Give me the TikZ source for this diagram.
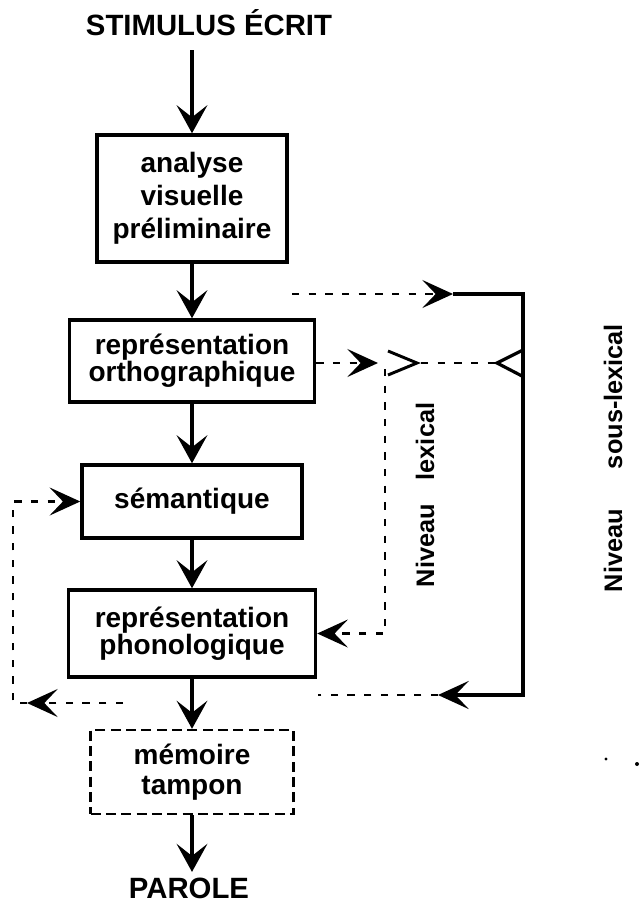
\documentclass[tikz,border=0pt]{standalone}
\usepackage{fontspec}
\setmainfont{Liberation Sans}
\usetikzlibrary{arrows.meta}

\begin{document}
\begin{tikzpicture}[x=0.75pt, y=-0.75pt,
		boite/.style={draw, line width=2.6pt, align=center, inner sep=0pt, font=\fontsize{21}{20.25}\selectfont\bfseries},
		tampon/.style={boite, line width=1.8pt, dash pattern=on 7.5pt off 4pt},
		fleche/.style={line width=2.6pt, -{Stealth[length=21pt, width=23pt, inset=9pt]}},
		pointille/.style={line width=2pt, dash pattern=on 5.5pt off 7pt},
		pointe/.style={-{Stealth[length=23pt, width=21pt, inset=10pt]}},
		trait/.style={line width=2.6pt},
		niveau/.style={rotate=90, font=\fontsize{19}{22}\selectfont\bfseries},
		titre/.style={font=\fontsize{22}{24}\selectfont\bfseries, inner xsep=0pt}
			]
	\useasboundingbox (0,0) rectangle (641,904);

	\node[titre, anchor=base, inner ysep=11pt] (stimulus) at (209,35) {STIMULUS ÉCRIT};
	\node[boite, minimum width=142.5pt, minimum height=95.25pt, font=\fontsize{21}{24.75}\selectfont\bfseries] (analyse) at (192,198.5) {analyse\\visuelle\\préliminaire};
	\node[boite, minimum width=183.75pt, minimum height=61.5pt] (ortho) at (192,361) {représentation\\orthographique};
	\node[boite, minimum width=165pt, minimum height=54.75pt] (sem) at (192,501.5) {sémantique};
	\node[boite, minimum width=185.25pt, minimum height=65.25pt] (phono) at (192,633.5) {représentation\\phonologique};
	\node[tampon, minimum width=152.25pt, minimum height=63pt, font=\fontsize{21}{22.5}\selectfont\bfseries] (memoire) at (192,772) {mémoire\\tampon};
	\node[titre, anchor=base, inner ysep=4pt] (parole) at (189,898) {PAROLE};

	\node[niveau] (lexical) at (425,495) {Niveau\hspace{18pt}lexical};
	\node[niveau] (souslexical) at (613,458) {Niveau\hspace{30pt}sous-lexical};

	\draw[fleche] (analyse.north |- stimulus.south) -- (analyse.north);
	\draw[fleche] (analyse) -- (ortho);
	\draw[fleche] (ortho) -- (sem);
	\draw[fleche] (sem) -- (phono);
	\draw[fleche] (phono) -- (memoire);
	\draw[fleche] (memoire.south) -- (memoire.south |- parole.north);

	% voie sous-lexicale
	\coordinate (hautG) at (292,294);
	\coordinate (hautF) at (453,294);
	\coordinate (hautD) at (523,294);
	\coordinate (basD) at (523,695);
	\coordinate (basF) at (438,695);
	\coordinate (basG) at (318,695);
	\draw[pointille, pointe] (hautG) -- (hautF);
	\draw[trait, pointe] (hautF) -- (hautD) -- (basD) -- (basF);
	\draw[pointille] (basF) -- (basG);

	% voie lexicale
	\coordinate (orthoF) at (378,363);
	\coordinate (chevron) at (417,363);
	\coordinate (retour) at (497,363);
	\coordinate (lexH) at (385,369);
	\draw[pointille, pointe] (ortho.east |- orthoF) -- (orthoF);
	\draw[trait, line width=2.2pt] (chevron) ++(-29,-12) -- (chevron) -- ++(-29,12);
	\draw[pointille] (chevron) ++(4,0) -- (retour);
	\draw[trait, line width=2.4pt] (hautD |- retour) ++(0,-13) -- (retour) -- ++(25,13);
	\draw[pointille, pointe] (lexH) |- (phono.east);

	% retour semantique
	\coordinate (gD) at (123,703);
	\coordinate (gF) at (27,703);
	\coordinate (gB) at (13,703);
	\draw[pointille, pointe] (gD) -- (gF);
	\draw[pointille, pointe] (gF) -- (gB) |- (sem.west);

	\fill (606,759) circle (1.2pt);
	\fill (637,764) circle (1.5pt);
\end{tikzpicture}
\end{document}
